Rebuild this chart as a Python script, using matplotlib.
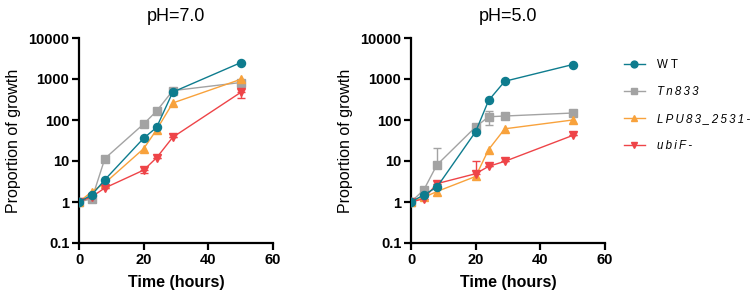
import numpy as np
import matplotlib
matplotlib.use("Agg")
import matplotlib.pyplot as plt

time = [0, 4, 8, 20, 24, 29, 50]
series_names = ["WT", "Tn833", "LPU83_2531-", "ubiF-"]
legend_labels = ["\u2009".join(s) if i > 0 else "W T" for i, s in enumerate(series_names)]

# pH 7.0
ph7_WT    = [1, 1.5, 3.5, 36, 66, 480, 2500]
ph7_Tn833 = [1, 1.2, 11.5, 80, 165, 520, 820]
ph7_LPU   = [1, 1.8, 2.9, 20, 58, 260, 980]
ph7_ubiF  = [1, 1.35, 2.2, 6, 12, 38, 470]
ph7_ubiF_errlo = [0, 0, 0, 1.0, 0, 0, 120]

# pH 5.0
ph5_WT    = [1, 1.5, 2.3, 52, 300, 880, 2250]
ph5_Tn833 = [1, 2.0, 8.0, 68, 120, 125, 148]
ph5_Tn833_errhi = [0, 0, 13, 0, 45, 0, 0]
ph5_Tn833_errlo = [0, 0, 0, 0, 45, 0, 0]
ph5_LPU   = [1, 1.3, 1.8, 4.2, 19, 61, 100]
ph5_ubiF  = [1, 1.2, 2.8, 4.9, 7.4, 9.8, 42]
ph5_ubiF_errhi = [0, 0, 0, 5.2, 0, 0, 0]

colors = ["#0E7C8E", "#A3A3A3", "#F8A23C", "#EE4448"]
markers = ["o", "s", "^", "v"]

tick_font = dict(family=["Liberation Sans", "DejaVu Sans"], weight="bold", size=10.5)

fig = plt.figure(figsize=(7.51, 2.98), dpi=100)
ax1 = fig.add_axes([79/751, 55/298, 194/751, 205/298])
ax2 = fig.add_axes([411/751, 55/298, 194/751, 205/298])

def draw(ax, data, errs, title):
    handles = []
    for i, (vals, name) in enumerate(zip(data, legend_labels)):
        e = errs[i]
        if e is not None:
            ax.errorbar(time, vals, yerr=e, fmt="none", ecolor=colors[i], elinewidth=1.0,
                        capsize=3, capthick=1.0, zorder=2)
        h, = ax.plot(time, vals, color=colors[i], marker=markers[i], markersize=5.8,
                     linewidth=1.0, label=name, zorder=3 + (i == 0))
        handles.append(h)
    ax.set_yscale("log")
    ax.set_ylim(0.1, 10000)
    ax.set_xlim(0, 60)
    ax.set_xticks([0, 20, 40, 60])
    ax.set_yticks([0.1, 1, 10, 100, 1000, 10000])
    ax.set_yticklabels(["0.1", "1", "10", "100", "1000", "10000"])
    ax.yaxis.set_minor_locator(matplotlib.ticker.NullLocator())
    for s in ["top", "right"]:
        ax.spines[s].set_visible(False)
    for s in ["left", "bottom"]:
        ax.spines[s].set_linewidth(1.6)
    ax.tick_params(width=1.6, length=5, direction="out", pad=2)
    for lab in ax.get_xticklabels() + ax.get_yticklabels():
        lab.set_fontproperties(matplotlib.font_manager.FontProperties(**tick_font))
    ax.set_xlabel("Time (hours)", fontsize=11.5, fontweight="bold",
                  family=["Liberation Sans", "DejaVu Sans"], labelpad=6)
    ax.set_ylabel("Proportion of growth", fontsize=11.5,
                  family=["Liberation Sans", "DejaVu Sans"], labelpad=5)
    ax.set_title(title, fontsize=13, family=["Liberation Sans", "DejaVu Sans"], pad=12)
    ax.patch.set_alpha(0)
    return handles

draw(ax1, [ph7_WT, ph7_Tn833, ph7_LPU, ph7_ubiF],
     [None, None, None, [ph7_ubiF_errlo, [0]*7]], "pH=7.0")
handles = draw(ax2, [ph5_WT, ph5_Tn833, ph5_LPU, ph5_ubiF],
               [None, [ph5_Tn833_errlo, ph5_Tn833_errhi], None, [[0]*7, ph5_ubiF_errhi]], "pH=5.0")

leg = fig.legend(handles=handles, labels=legend_labels, loc="upper left",
                 bbox_to_anchor=(624/751, 1 - 59/298), frameon=False,
                 prop=dict(family=["Liberation Sans", "DejaVu Sans"], size=8.3),
                 handlelength=1.8, labelspacing=1.3, handletextpad=1.1,
                 markerscale=0.85, borderaxespad=0, borderpad=0)
for i, t in enumerate(leg.get_texts()):
    if i > 0:
        t.set_fontstyle("italic")

fig.savefig("out.png", dpi=100)
